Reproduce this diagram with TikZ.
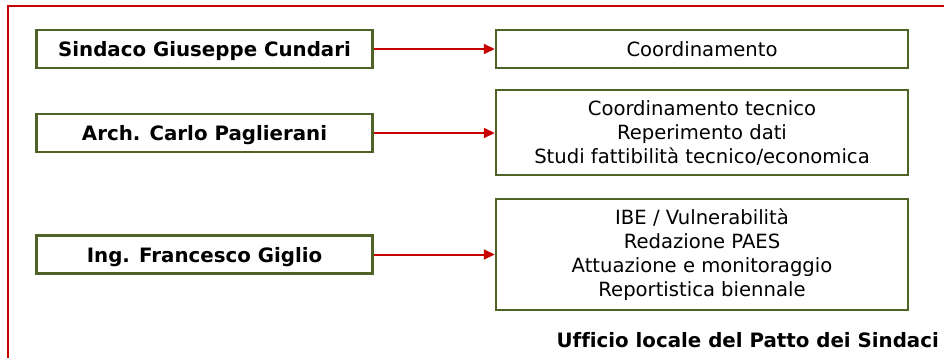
\documentclass[tikz,border=0pt]{standalone}
\usepackage{fontspec}
\setmainfont{DejaVu Sans}[Ligatures=NoCommon]
\usetikzlibrary{arrows.meta}
\definecolor{frame}{RGB}{200,0,0}
\definecolor{olive}{RGB}{79,98,40}
\begin{document}
\begin{tikzpicture}[x=1pt,y=-1pt,
  person/.style={draw=olive,line width=2.5pt,minimum width=336pt,minimum height=38pt,inner sep=0pt,text depth=0pt,font=\fontsize{19.8}{24}\selectfont\bfseries},
  task/.style={draw=olive,line width=2.5pt,minimum width=412pt,inner sep=0pt,align=center,font=\fontsize{19.6}{24}\selectfont},
  link/.style={draw=frame,line width=2pt,-{Triangle[length=11pt,width=10pt]}}]
\useasboundingbox (0,0) rectangle (944,358);
\clip (0,0) rectangle (944,358);
\draw[frame,line width=2pt] (8,6) rectangle (980,400);
\node[person] (l1) at (204.5,49) {Sindaco Giuseppe Cundari};
\node[person] (l2) at (204.5,133) {Arch. Carlo Paglierani};
\node[person] (l3) at (204.5,254.5) {Ing. Francesco Giglio};
\node[task,minimum height=38pt,text depth=0pt] (r1) at (702,49) {Coordinamento};
\node[task,minimum height=85pt] (r2) at (702,132.5) {Coordinamento tecnico\\Reperimento dati\\Studi fattibilità tecnico/economica};
\node[task,minimum height=111pt] (r3) at (702,254.5) {IBE / Vulnerabilità\\Redazione PAES\\Attuazione e monitoraggio\\Reportistica biennale};
\draw[link] (l1.east) -- (r1.west);
\draw[link] (l2.east) -- (l2.east -| r2.west);
\draw[link] (l3.east) -- (r3.west);
\node[anchor=east,inner sep=0pt,font=\fontsize{19.8}{24}\selectfont\bfseries] (title) at (939,340) {Ufficio locale del Patto dei Sindaci};
\end{tikzpicture}
\end{document}
